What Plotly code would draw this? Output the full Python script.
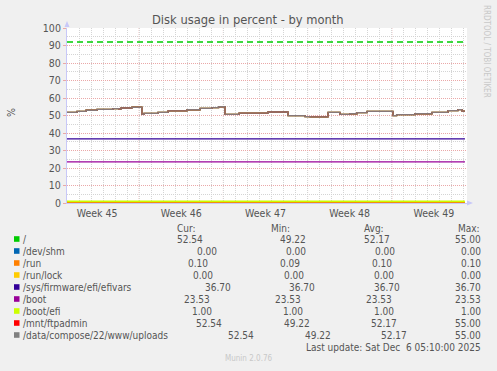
import plotly.graph_objects as go

# ---------------- data ----------------
title_text = "Disk usage in percent - by month"
week_labels = ["Week 45", "Week 46", "Week 47", "Week 48", "Week 49"]
week_label_days = [2.5, 9.5, 16.5, 23.5, 30.5]
week_start_days = [6, 13, 20, 27]

# shared usage of "/", "/mnt/ftpadmin" and "/data/compose/22/www/uploads" (days since start)
usage_days = [0.00, 0.83, 1.58, 2.49, 3.82, 4.32, 4.49, 5.40, 6.23, 6.40, 7.56, 8.40,
              9.98, 11.06, 12.05, 12.60, 13.13, 14.30, 16.71, 18.37, 19.78, 20.20,
              21.70, 22.69, 23.52, 24.11, 24.94, 27.10, 27.40, 28.93, 30.34, 31.67,
              32.50, 32.83, 33.08]
usage_vals = [51.8, 52.4, 53.0, 53.5, 53.9, 53.6, 54.3, 54.7, 50.7, 51.2, 51.8, 52.6,
              53.3, 54.1, 54.5, 55.0, 50.7, 51.4, 52.0, 49.9, 49.4, 49.22,
              51.8, 50.7, 51.0, 51.6, 52.4, 49.9, 50.5, 51.0, 51.8, 52.8,
              53.4, 52.54, 52.54]

flat_days = [0.0, 33.08]
dev_shm_vals = [0.00, 0.00]
run_vals = [0.10, 0.10]
run_lock_vals = [0.00, 0.00]
efivars_vals = [36.70, 36.70]
boot_vals = [23.53, 23.53]
boot_efi_vals = [1.00, 1.00]
warning_vals = [92, 92]

series_names = ["/", "/dev/shm", "/run", "/run/lock", "/sys/firmware/efi/efivars",
                "/boot", "/boot/efi", "/mnt/ftpadmin", "/data/compose/22/www/uploads"]
series_colors = ["#00CC00", "#0066B3", "#FF8000", "#FFCC00", "#330099",
                 "#990099", "#CCFF00", "#FF0000", "#808080"]
cur_text = ["52.54", "0.00", "0.10", "0.00", "36.70", "23.53", "1.00", "52.54", "52.54"]
min_text = ["49.22", "0.00", "0.09", "0.00", "36.70", "23.53", "1.00", "49.22", "49.22"]
avg_text = ["52.17", "0.00", "0.10", "0.00", "36.70", "23.53", "1.00", "52.17", "52.17"]
max_text = ["55.00", "0.00", "0.10", "0.00", "36.70", "23.53", "1.00", "55.00", "55.00"]
last_update = "Last update: Sat Dec&nbsp; 6 05:10:00 2025"
footer = "Munin 2.0.76"
side_text = "RRDTOOL / TOBI OETIKER"

# ---------------- layout helpers ----------------
W, H = 497, 371
L, R, T, B = 67, 467, 28, 203
FONT = "DejaVu Sans Condensed, DejaVu Sans, sans-serif"
TXT = "#555555"


def px(x):
    return (x - L) / (R - L)


def py(y):
    return (B - y) / (B - T)


fig = go.Figure()

ys = [usage_vals, dev_shm_vals, run_vals, run_lock_vals, efivars_vals,
      boot_vals, boot_efi_vals, usage_vals, usage_vals]
draw_order = [0, 1, 3, 2, 4, 5, 6, 7, 8]
for i in draw_order:
    xs = usage_days if ys[i] is usage_vals else flat_days
    fig.add_trace(go.Scatter(
        x=xs, y=ys[i], mode="lines", name=series_names[i],
        line=dict(color=series_colors[i], width=1.3, shape="hv"),
        opacity=0.94 if i == 8 else 1.0,
        showlegend=False, hoverinfo="skip"))

fig.add_trace(go.Scatter(
    x=flat_days, y=warning_vals, mode="lines",
    line=dict(color="#00CC00", width=1.3, dash="6px,4px"),
    showlegend=False, hoverinfo="skip"))

shapes = []
for d in week_start_days:
    shapes.append(dict(type="line", xref="x", yref="paper", x0=d, x1=d, y0=0, y1=1,
                       line=dict(color="#E8A0A0", width=1, dash="1px,1px"), layer="between"))
# axis arrows
shapes.append(dict(type="path", xref="paper", yref="paper",
                   path=f"M {px(64.5)} {py(27)} L {px(69.5)} {py(27)} L {px(67)} {py(21)} Z",
                   fillcolor="#C8C8F8", line=dict(width=0)))
shapes.append(dict(type="path", xref="paper", yref="paper",
                   path=f"M {px(467)} {py(200.5)} L {px(467)} {py(205.5)} L {px(473)} {py(203)} Z",
                   fillcolor="#C8C8F8", line=dict(width=0)))

annotations = []


def ann(text, x, y, xanchor="left", size=10, color=TXT, angle=0, yanchor="middle"):
    annotations.append(dict(text=text, x=px(x), y=py(y), xref="paper", yref="paper",
                            xanchor=xanchor, yanchor=yanchor, showarrow=False,
                            textangle=angle, font=dict(family=FONT, size=size, color=color)))


ann(title_text, 248, 20, xanchor="center", size=12.8)
ann("%", 11, 112, xanchor="center", size=10.5, angle=-90)
ann(side_text, 487, 51, xanchor="center", size=8, color="#C8C8C8", angle=90)

# legend table
ann("Cur:", 175, 228)
ann("Min:", 269, 228)
ann("Avg:", 362, 228)
ann("Max:", 456, 228)
cur_x = [175, 195, 186, 191, 203, 182, 190, 194, 226]
min_x = [278, 284, 278, 282, 287, 273, 281, 282, 303]
avg_x = [362, 373, 370, 372, 372, 364, 372, 369, 379]
for i, name in enumerate(series_names):
    yc = 239 + 12 * i
    shapes.append(dict(type="rect", xref="paper", yref="paper",
                       x0=px(14), x1=px(19.5), y0=py(yc + 2.8), y1=py(yc - 2.8),
                       fillcolor=series_colors[i], line=dict(width=0)))
    ann(name, 20.5, yc)
    ann(cur_text[i], cur_x[i], yc)
    ann(min_text[i], min_x[i], yc)
    ann(avg_text[i], avg_x[i], yc)
    ann(max_text[i], 483, yc, xanchor="right")
ann(last_update, 483, 347, xanchor="right")
ann(footer, 248, 358, xanchor="center", size=8, color="#C8C8C8")

fig.update_layout(
    width=W, height=H,
    margin=dict(l=L, r=W - R, t=T, b=H - B, autoexpand=False),
    paper_bgcolor="#F0F0F0", plot_bgcolor="#FFFFFF",
    shapes=shapes, annotations=annotations,
    font=dict(family=FONT, size=10.5, color=TXT),
    xaxis=dict(range=[0, 33.25], tickvals=week_label_days, ticktext=week_labels,
               showgrid=False, zeroline=False, showline=True, linecolor="#C8C8F8",
               ticks="", ticklen=0, automargin=False,
               minor=dict(dtick=1, tick0=0, showgrid=True, gridcolor="#D4D4D4",
                          griddash="1px,1px", gridwidth=1, ticks="")),
    yaxis=dict(range=[0, 100], dtick=10, tick0=0, showgrid=True, gridcolor="#EAA8A8",
               griddash="1px,1px", gridwidth=1, zeroline=False, showline=True,
               linecolor="#C8C8F8", ticks="outside", ticklen=3, tickcolor="#EAA8A8",
               automargin=False,
               minor=dict(dtick=5, showgrid=True, gridcolor="#D4D4D4",
                          griddash="1px,1px", gridwidth=1)),
)

fig.write_html("out.html", config={"displayModeBar": False},
               post_script="document.body.style.margin='0';document.body.style.overflow='hidden';")
